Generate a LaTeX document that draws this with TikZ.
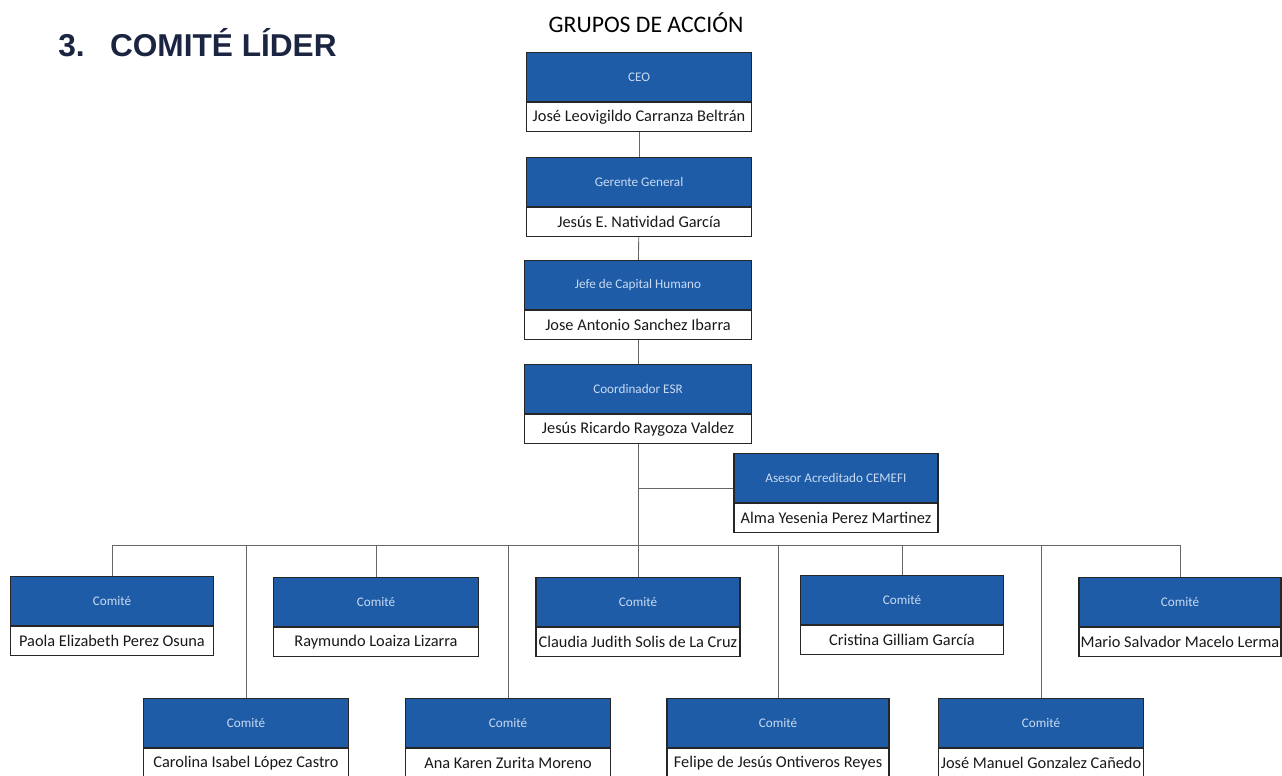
\documentclass[tikz,border=0pt]{standalone}
\usepackage{fontspec}
\setmainfont{Carlito}
\newfontfamily\titlefont{Liberation Sans}
\usetikzlibrary{positioning}
\definecolor{boxblue}{HTML}{1E5CA8}
\definecolor{rolefg}{HTML}{C9DBF2}
\definecolor{navy}{HTML}{1B2541}

\begin{document}
\begin{tikzpicture}[x=0.02cm,y=-0.02cm,
	rolebox/.style={draw=black!85, line width=0.7pt, fill=boxblue, text=rolefg, minimum width=#1, minimum height=0.98cm, inner sep=1pt, font=\fontsize{7.5}{9}\selectfont},
	personbox/.style={draw=black!85, line width=0.7pt, fill=white, text=black!90, minimum width=#1, minimum height=0.57cm, inner ysep=1pt, inner xsep=0pt, font=\fontsize{9.3}{11}\selectfont},
	wire/.style={draw=black!60, line width=0.5pt}]
	\useasboundingbox (0,0) rectangle (1282,776);

	\node[anchor=base west, inner sep=0pt, text=navy, font=\titlefont\bfseries\fontsize{18}{20}\selectfont] (titulo) at (58,57) {3.\hspace{0.8em}COMITÉ LÍDER};
	\node[anchor=base, inner sep=0pt, font=\fontsize{13.5}{15}\selectfont] (grupos) at (646,33) {GRUPOS DE ACCIÓN};

	% cadena de mando
	\node[rolebox=4.5cm] (ceo) at (639,77) {CEO};
	\node[personbox=4.5cm, below=0pt of ceo] (ceo-n) {José Leovigildo Carranza Beltrán};
	\node[rolebox=4.5cm] (gerente) at (639,182) {Gerente General};
	\node[personbox=4.5cm, below=0pt of gerente] (gerente-n) {Jesús E. Natividad García};
	\node[rolebox=4.54cm] (jefe) at (638,285) {Jefe de Capital Humano};
	\node[personbox=4.54cm, below=0pt of jefe] (jefe-n) {Jose Antonio Sanchez Ibarra};
	\node[rolebox=4.54cm] (coord) at (638,389) {Coordinador ESR};
	\node[personbox=4.54cm, below=0pt of coord] (coord-n) {Jesús Ricardo Raygoza Valdez};
	\node[rolebox=4.08cm] (asesor) at (836,478) {Asesor Acreditado CEMEFI};
	\node[personbox=4.08cm, below=0pt of asesor] (asesor-n) {Alma Yesenia Perez Martinez};

	% comites, primera fila
	\node[rolebox=4.06cm] (paola) at (112,601) {Comité};
	\node[personbox=4.06cm, below=0pt of paola] (paola-n) {Paola Elizabeth Perez Osuna};
	\node[rolebox=4.1cm] (raymundo) at (376,602) {Comité};
	\node[personbox=4.1cm, below=0pt of raymundo] (raymundo-n) {Raymundo Loaiza Lizarra};
	\node[rolebox=4.08cm] (claudia) at (638,602) {Comité};
	\node[personbox=4.08cm, below=0pt of claudia] (claudia-n) {Claudia Judith Solis de La Cruz};
	\node[rolebox=4.06cm] (cristina) at (902,600) {Comité};
	\node[personbox=4.06cm, below=0pt of cristina] (cristina-n) {Cristina Gilliam García};
	\node[rolebox=4.04cm] (mario) at (1180,602) {Comité};
	\node[personbox=4.04cm, below=0pt of mario] (mario-n) {Mario Salvador Macelo Lerma};

	% comites, segunda fila
	\node[rolebox=4.1cm] (carolina) at (246,723) {Comité};
	\node[personbox=4.1cm, below=0pt of carolina] (carolina-n) {Carolina Isabel López Castro};
	\node[rolebox=4.1cm] (ana) at (508,723) {Comité};
	\node[personbox=4.1cm, below=0pt of ana] (ana-n) {Ana Karen Zurita Moreno};
	\node[rolebox=4.44cm] (felipe) at (778,723) {Comité};
	\node[personbox=4.44cm, below=0pt of felipe] (felipe-n) {Felipe de Jesús Ontiveros Reyes};
	\node[rolebox=4.1cm] (josem) at (1041,723) {Comité};
	\node[personbox=4.1cm, below=0pt of josem] (josem-n) {José Manuel Gonzalez Cañedo};

	\coordinate (bus) at (638,545);
	\coordinate (asesor-in) at ([yshift=-0.2cm]asesor.west);

	\draw[wire] (ceo-n) -- (gerente);
	\draw[wire] (gerente-n) -- (jefe);
	\draw[wire] (jefe-n) -- (coord);
	\draw[wire] (coord-n) -- (coord-n |- bus);
	\draw[wire] (asesor-in) -- (asesor-in -| coord-n);
	\draw[wire] (paola.north |- bus) -- (mario.north |- bus);
	\foreach \c in {paola,raymundo,claudia,cristina,mario,carolina,ana,felipe,josem}
		\draw[wire] (\c.north) -- (\c.north |- bus);
\end{tikzpicture}
\end{document}
